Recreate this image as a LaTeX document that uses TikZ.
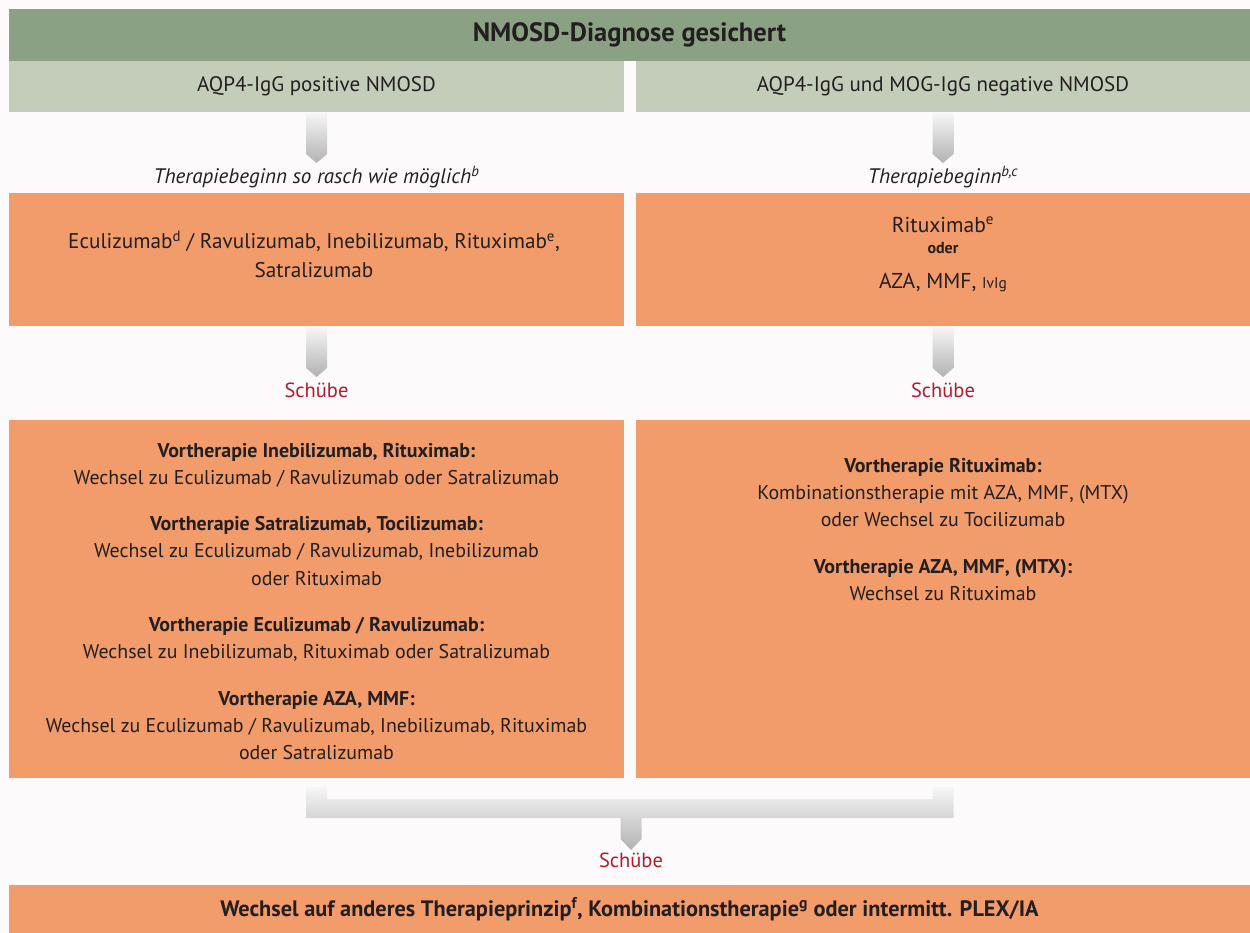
\documentclass[tikz,border=0pt]{standalone}
\usepackage{fontspec}
\setmainfont{PT Sans}
\usetikzlibrary{calc}
\definecolor{bgcol}{HTML}{FCFAFB}
\definecolor{dgreen}{HTML}{8AA283}
\definecolor{lgreen}{HTML}{C3CDBA}
\definecolor{orng}{HTML}{F29B6B}
\definecolor{redtxt}{HTML}{B31B2E}
\definecolor{txt}{HTML}{231F20}
\definecolor{arrtop}{HTML}{F6F6F6}
\definecolor{arrbot}{HTML}{B2B2B2}
\newcommand{\fs}[2]{\fontsize{#1}{#2}\selectfont}
\newcommand{\garrow}[2]{%
  \shade[top color=arrtop, bottom color=arrbot]
    let \p1=(#1), \p2=(#2) in
    (\x1-10.5pt,\y1-1pt) -- (\x1+10.5pt,\y1-1pt) -- (\x1+10.5pt,\y2+9pt) -- (\x1,\y2) -- (\x1-10.5pt,\y2+9pt) -- cycle;}
\begin{document}
\begin{tikzpicture}[x=1pt,y=-1pt,
  panel/.style={inner sep=0pt,outer sep=0pt,anchor=north west,text=txt,align=center},
  lbl/.style={inner sep=0pt,outer sep=0pt,text=txt,align=center},
  relapse/.style={lbl,text=redtxt,font=\fs{20.5}{24}},
  body/.style={lbl,font=\fs{19.9}{27.1}},
]
\useasboundingbox (0,0) rectangle (1250,933);
\fill[bgcol] (0,0) rectangle (1250,933);

% top bar and headers
\node[panel,fill=dgreen,minimum width=1241pt,minimum height=52pt,font=\bfseries\fs{26.5}{30}] (title) at (9,9) {NMOSD-Diagnose gesichert};
\node[panel,fill=lgreen,minimum width=615pt,minimum height=51pt,font=\fs{21}{25}] (h1) at (9,61) {AQP4-IgG positive NMOSD};
\node[panel,fill=lgreen,minimum width=614pt,minimum height=51pt,font=\fs{21}{25}] (h2) at (636,61) {AQP4-IgG und MOG-IgG negative NMOSD};

% start labels
\node[lbl,font=\itshape\fs{21}{25}] (s1) at (316.5,177) {Therapiebeginn so rasch wie möglich\textsuperscript{b}};
\node[lbl,font=\itshape\fs{21}{25}] (s2) at (943,177) {Therapiebeginn\textsuperscript{b,c}};

% first-line therapy boxes
\node[panel,fill=orng,minimum width=615pt,minimum height=133pt] (o1) at (9,193) {};
\node[panel,fill=orng,minimum width=614pt,minimum height=133pt] (o2) at (636,193) {};
\node[lbl,font=\fs{21.2}{29}] (o1t) at (314,254.5) {Eculizumab\textsuperscript{d} / Ravulizumab, Inebilizumab, Rituximab\textsuperscript{e},\\Satralizumab};
\node[lbl,font=\fs{21.5}{25}] (o2a) at (943,225) {Rituximab\textsuperscript{e}};
\node[lbl,font=\bfseries\fs{16}{19}] (o2b) at (943,248.5) {oder};
\node[lbl,font=\fs{21.5}{25}] (o2c) at (943,283) {AZA, MMF, {\fs{15.5}{19}IvIg}};

% relapses
\node[relapse] (r1) at (316.5,390) {Schübe};
\node[relapse] (r2) at (943,390) {Schübe};

% second-line boxes
\node[panel,fill=orng,minimum width=615pt,minimum height=358pt] (L2) at (9,420) {};
\node[panel,fill=orng,minimum width=614pt,minimum height=358pt] (R2) at (636,420) {};
\node[body,anchor=north] (L2t) at (316.5,443) {%
\textbf{Vortherapie Inebilizumab, Rituximab:}\\
Wechsel zu Eculizumab / Ravulizumab oder Satralizumab\\[19.5pt]
\textbf{Vortherapie Satralizumab, Tocilizumab:}\\
Wechsel zu Eculizumab / Ravulizumab, Inebilizumab\\
oder Rituximab\\[19.5pt]
\textbf{Vortherapie Eculizumab / Ravulizumab:}\\
Wechsel zu Inebilizumab, Rituximab oder Satralizumab\\[19.5pt]
\textbf{Vortherapie AZA, MMF:}\\
Wechsel zu Eculizumab / Ravulizumab, Inebilizumab, Rituximab\\
oder Satralizumab};
\node[body,anchor=north] (R2t) at (943,458) {%
\textbf{Vortherapie Rituximab:}\\
Kombinationstherapie mit AZA, MMF, (MTX)\\
oder Wechsel zu Tocilizumab\\[20pt]
\textbf{Vortherapie AZA, MMF, (MTX):}\\
Wechsel zu Rituximab};

% final
\node[relapse] (r3) at (631,860) {Schübe};
\node[panel,fill=orng,minimum width=1241pt,minimum height=48pt,font=\bfseries\fs{22.3}{26}] (fin) at (9,885) {Wechsel auf anderes Therapieprinzip\textsuperscript{f}, Kombinationstherapie\textsuperscript{g} oder intermitt. PLEX/IA};

% arrows
\coordinate (e1) at (316.5,163);
\coordinate (e2) at (943,163);
\coordinate (e3) at (316.5,377);
\coordinate (e4) at (943,377);
\coordinate (bt) at (631,850);
\garrow{h1.south}{e1}
\garrow{h2.south}{e2}
\garrow{o1.south}{e3}
\garrow{o2.south}{e4}
\shade[top color=arrtop, bottom color=arrbot]
  let \p1=($(L2.south)+(0,9)$), \p2=($(R2.south)+(0,9)$), \p3=(bt) in
  (\x1-10.5pt,\y1) -- (\x1+10.5pt,\y1) -- (\x1+10.5pt,\y1-12pt) -- (\x2-10.5pt,\y1-12pt)
  -- (\x2-10.5pt,\y2) -- (\x2+10.5pt,\y2) -- (\x2+10.5pt,\y1-31pt) -- (\x3+10.5pt,\y1-31pt)
  -- (\x3+10.5pt,\y3+11pt) -- (\x3,\y3) -- (\x3-10.5pt,\y3+11pt) -- (\x3-10.5pt,\y1-31pt)
  -- (\x1-10.5pt,\y1-31pt) -- cycle;
\end{tikzpicture}
\end{document}
